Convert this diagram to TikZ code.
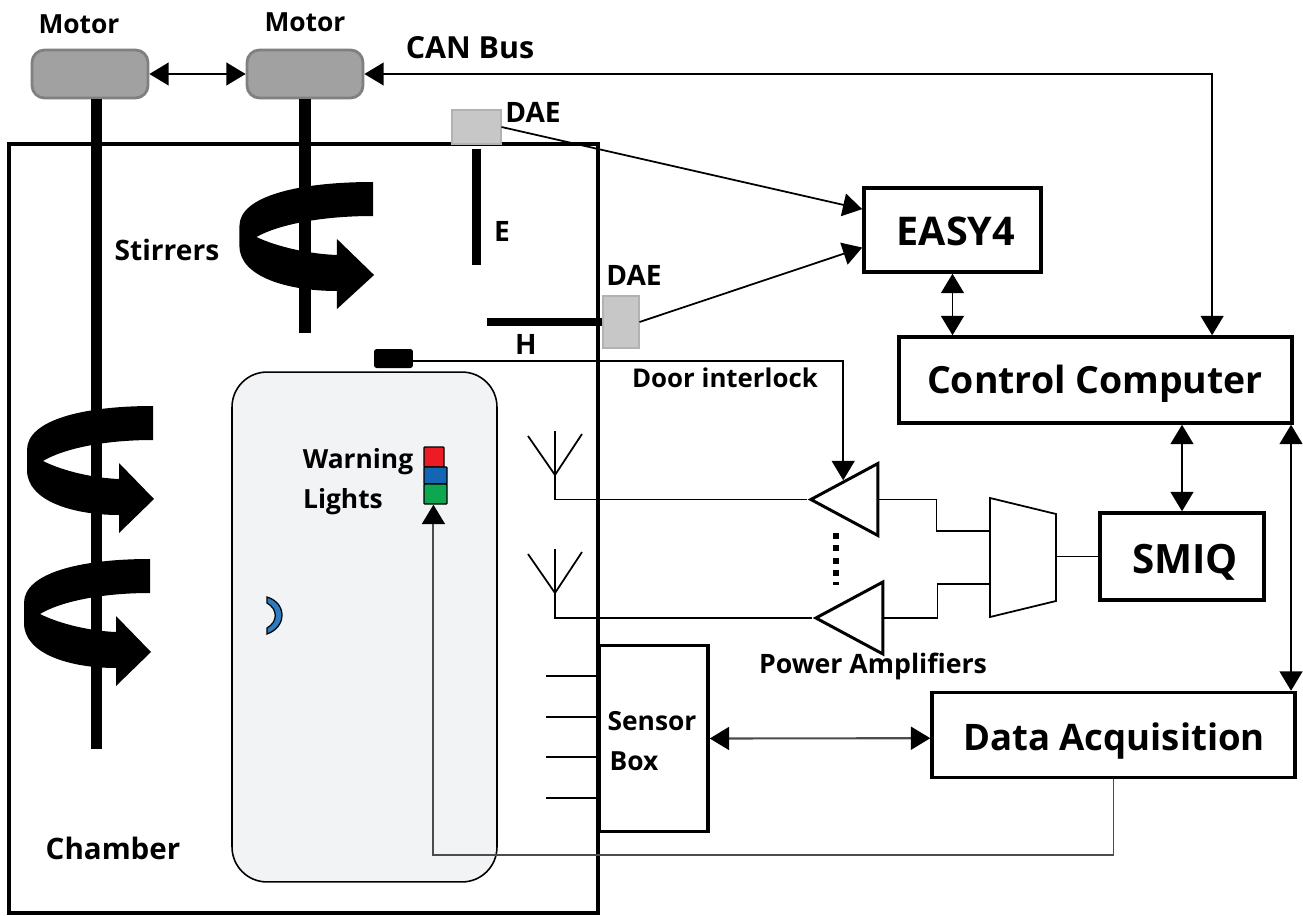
\documentclass[tikz,border=0pt]{standalone}
\usepackage{fontspec}
\setmainfont{Open Sans}
\usetikzlibrary{arrows.meta, calc, shapes.geometric}
\definecolor{panelgray}{HTML}{F2F3F5}
\definecolor{lightblue}{HTML}{2F7BC0}
\definecolor{lightgreen}{HTML}{0FA651}
\definecolor{lightred}{HTML}{ED1C24}
\definecolor{bluestack}{HTML}{1565B5}
\tikzset{
    >={Triangle[length=11pt, width=13pt, color=black]},
    lbl/.style={font=\fontsize{#1}{#1}\selectfont\bfseries, inner sep=0pt},
    lbl/.default=15,
    biglbl/.style={font=\fontsize{#1}{#1}\selectfont\bfseries, inner sep=0pt},
    biglbl/.default=21,
    box/.style={draw, line width=2pt, inner sep=0pt},
    motorbox/.style={draw=black!50, fill=black!37, line width=1.6pt, rounded corners=2.5mm, minimum width=2.32cm, minimum height=0.96cm},
    daebox/.style={draw=black!30, fill=black!22, line width=0.6pt, inner sep=0pt},
    rod/.style={line width=6.5pt},
    wire/.style={line width=1pt},
    both/.style={line width=1pt, <->},
    tipin/.style={line width=1pt, ->},
    amp/.style={draw, line width=1.7pt, shape=isosceles triangle, shape border rotate=180, isosceles triangle stretches, minimum width=1.44cm, minimum height=1.34cm, inner sep=0pt, anchor=apex},
    lamp/.style={draw, line width=0.8pt, rounded corners=0.5pt, inner sep=0pt},
    pics/stirrer/.style={code={
        \fill (0,0) .. controls (-70,0) and (-126,14) .. (-126,44) -- (-126,64) .. controls (-126,95) and (-80,109) .. (-34,109) -- (-34,127) -- (1,93) -- (-34,57) -- (-34,73) .. controls (-60,72) and (-90,65) .. (-110,55) .. controls (-90,43) and (-50,34) .. (0,34) -- cycle;
    }}
}
\begin{document}
\begin{tikzpicture}[x=0.02cm, y=-0.02cm]
    \useasboundingbox (0,0) rectangle (1303,916);

    % Door and chamber
    \node[draw, line width=0.9pt, fill=panelgray, rounded corners=0.7cm, minimum width=5.3cm, minimum height=10.2cm] (panel) at (364.5,627) {};
    \node[box, minimum width=11.78cm, minimum height=15.38cm] (chamber) at (303.5,528.5) {};
    \node[lbl=16.8] (chamberlbl) at (113,848) {Chamber};

    % Motors
    \node[motorbox] (mota) at (90,74) {};
    \node[motorbox] (motb) at (305,74) {};
    \node[lbl] (motalbl) at (79,24) {Motor};
    \node[lbl] (motblbl) at (305,22) {Motor};
    \node[lbl=17.3] (canlbl) at (470,48) {CAN Bus};
    \draw[both] (mota) -- (motb);

    % Stirrers
    \draw[rod] (mota.-76) -- ++(0,650);
    \draw[rod] (motb.south) -- ++(0,234);
    \pic[xscale=1.06] at (373,182) {stirrer};
    \pic at (153,406) {stirrer};
    \pic at (150,559) {stirrer};
    \node[lbl=16] (stirlbl) at (167,250) {Stirrers};

    % Field probes
    \node[daebox, minimum width=0.98cm, minimum height=0.68cm] (daea) at (476.5,127) {};
    \node[daebox, minimum width=0.72cm, minimum height=1.04cm] (daeb) at (621,322) {};
    \node[lbl=16] (daealbl) at (533,112) {DAE};
    \node[lbl=16] (daeblbl) at (634,275) {DAE};
    \draw[rod, line width=5.5pt] (daea.south) ++(0,4) -- ++(0,116);
    \draw[rod, line width=5pt] (daeb.west) -- ++(-115,0);
    \node[lbl=16] (elbl) at (502,231) {E};
    \node[lbl=16] (hlbl) at (526,344) {H};

    % Instruments
    \node[box, minimum width=3.54cm, minimum height=1.68cm] (easy) at (952.5,230) {};
    \node[biglbl=22.5] (easylbl) at (956,231) {EASY4};
    \node[box, minimum width=7.86cm, minimum height=1.72cm] (cc) at (1095.5,380) {};
    \node[biglbl=21.3] (cclbl) at (1095,384) {Control Computer};
    \node[box, minimum width=3.28cm, minimum height=1.74cm] (smiq) at (1182,556.5) {};
    \node[biglbl=23] (smiqlbl) at (1185,562) {SMIQ};
    \node[box, minimum width=7.26cm, minimum height=1.70cm] (daq) at (1113.5,735) {};
    \node[biglbl=20.8] (daqlbl) at (1114,741) {Data Acquisition};
    \node[box, minimum width=2.18cm, minimum height=3.72cm] (sensor) at (653.5,738.5) {};
    \node[lbl] (sensorlbl) at (652,721) {Sensor};
    \node[lbl] (boxlbl) at (634,761) {Box};

    % Sensors
    \foreach \y in {676,717,757,798} {
        \coordinate (s\y) at (546,\y);
        \draw[wire, line width=0.7pt] (s\y) -- (s\y -| sensor.west);
    }

    % Amplifiers
    \node[amp] (ampa) at (807,499.5) {};
    \node[amp] (ampb) at (812,618) {};
    \draw[wire] (990,498) -- (1056,514) -- (1056,601) -- (990,617) -- cycle;
    \coordinate (muxa) at (990,531);
    \coordinate (muxb) at (990,584);
    \coordinate (muxc) at (1056,556.5);
    \node[lbl=15.2] (amplbl) at (873,666) {Power Amplifiers};
    \draw[line width=3.2pt, dash pattern=on 3.4pt off 3.6pt] (836,533) -- (836,585);
    \draw[wire] (ampa.lower side) -- ++(57,0) |- (muxa);
    \draw[wire] (ampb.lower side) -- ++(53,0) |- (muxb);
    \draw[wire] (muxc) -- (smiq.west);

    % Antennas
    \coordinate (anta) at (555,475);
    \coordinate (antb) at (555,593);
    \foreach \n in {anta,antb} {
        \draw[wire] (\n) -- ++(-27,-39) (\n) -- ++(27,-41) (\n) -- ++(0,-44);
    }
    \draw[wire] (anta) |- (ampa.apex);
    \draw[wire] (antb) |- (ampb.apex);

    % Warning lights
    \node[lamp, fill=lightred, minimum width=0.40cm, minimum height=0.40cm] (lampr) at (434,457) {};
    \node[lamp, fill=bluestack, minimum width=0.46cm, minimum height=0.34cm] (lampb) at (435.5,475.5) {};
    \node[lamp, fill=lightgreen, minimum width=0.46cm, minimum height=0.40cm] (lampg) at (435.5,494) {};
    \node[lbl] (warnlbl) at (358,462) {Warning};
    \node[lbl] (lightlbl) at (343,502) {Lights};
    \filldraw[fill=lightblue, line width=0.7pt] (267,597) .. controls (287,603) and (287,627) .. (267,634) -- (267,628) .. controls (278,622) and (278,609) .. (267,603) -- cycle;

    % Door interlock
    \node[fill=black, rounded corners=1.5pt, minimum width=0.78cm, minimum height=0.38cm, inner sep=0pt] (door) at (393.5,358.5) {};
    \node[lbl=14.7] (doorlbl) at (725,378) {Door interlock};
    \draw[tipin] (door.-7) -| (ampa.right side);

    % Connections
    \draw[both] (motb.east) -- (motb.east -| cc.21) -- (cc.21);
    \draw[tipin] (daea.east) -- (easy.167);
    \draw[tipin] (daeb.east) -- (easy.191);
    \draw[both] (easy.south) -- (easy.south |- cc.north);
    \draw[both] (cc.south -| smiq.north) -- (smiq.north);
    \draw[both] (daq.14.8) -- (daq.14.8 |- cc.south);
    \draw[both, line width=1.2pt, black!70] (sensor.east) -- (daq.181);
    \draw[tipin, line width=1.1pt, black!70] (daq.south) -- ++(0,76) -| (lampg.-101);
\end{tikzpicture}
\end{document}
